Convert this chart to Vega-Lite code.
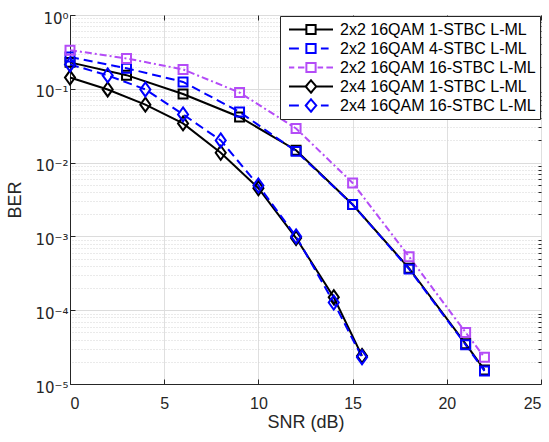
{
  "$schema": "https://vega.github.io/schema/vega-lite/v6.json",
  "width": 471,
  "height": 369,
  "autosize": {"type": "none"},
  "padding": {"left": 70, "top": 15, "right": 8, "bottom": 58},
  "config": {
    "view": {"stroke": "#262626", "strokeWidth": 1},
    "font": "Liberation Sans",
    "axis": {
      "labelFont": "Liberation Sans",
      "titleFont": "Liberation Sans",
      "labelColor": "#262626",
      "titleColor": "#262626",
      "domainColor": "#262626",
      "tickColor": "#262626",
      "labelFontSize": 16,
      "titleFontSize": 18,
      "titleFontWeight": "normal"
    },
    "legend": {
      "labelFont": "Liberation Sans",
      "labelFontSize": 16,
      "labelColor": "#000000"
    }
  },
  "data": {
    "values": [
      {"series": "2x2 16QAM 1-STBC L-ML", "snr": 0, "ber": 0.228},
      {"series": "2x2 16QAM 1-STBC L-ML", "snr": 3, "ber": 0.153},
      {"series": "2x2 16QAM 1-STBC L-ML", "snr": 6, "ber": 0.085},
      {"series": "2x2 16QAM 1-STBC L-ML", "snr": 9, "ber": 0.0415},
      {"series": "2x2 16QAM 1-STBC L-ML", "snr": 12, "ber": 0.0147},
      {"series": "2x2 16QAM 1-STBC L-ML", "snr": 15, "ber": 0.0027},
      {"series": "2x2 16QAM 1-STBC L-ML", "snr": 18, "ber": 0.00037},
      {"series": "2x2 16QAM 1-STBC L-ML", "snr": 21, "ber": 0.000035},
      {"series": "2x2 16QAM 1-STBC L-ML", "snr": 22, "ber": 0.0000155},
      {"series": "2x2 16QAM 4-STBC L-ML", "snr": 0, "ber": 0.27},
      {"series": "2x2 16QAM 4-STBC L-ML", "snr": 3, "ber": 0.19},
      {"series": "2x2 16QAM 4-STBC L-ML", "snr": 6, "ber": 0.124},
      {"series": "2x2 16QAM 4-STBC L-ML", "snr": 9, "ber": 0.0486},
      {"series": "2x2 16QAM 4-STBC L-ML", "snr": 12, "ber": 0.0142},
      {"series": "2x2 16QAM 4-STBC L-ML", "snr": 15, "ber": 0.0027},
      {"series": "2x2 16QAM 4-STBC L-ML", "snr": 18, "ber": 0.00036},
      {"series": "2x2 16QAM 4-STBC L-ML", "snr": 21, "ber": 0.000034},
      {"series": "2x2 16QAM 4-STBC L-ML", "snr": 22, "ber": 0.000015},
      {"series": "2x2 16QAM 16-STBC L-ML", "snr": 0, "ber": 0.334},
      {"series": "2x2 16QAM 16-STBC L-ML", "snr": 3, "ber": 0.258},
      {"series": "2x2 16QAM 16-STBC L-ML", "snr": 6, "ber": 0.183},
      {"series": "2x2 16QAM 16-STBC L-ML", "snr": 9, "ber": 0.089},
      {"series": "2x2 16QAM 16-STBC L-ML", "snr": 12, "ber": 0.029},
      {"series": "2x2 16QAM 16-STBC L-ML", "snr": 15, "ber": 0.0053},
      {"series": "2x2 16QAM 16-STBC L-ML", "snr": 18, "ber": 0.00053},
      {"series": "2x2 16QAM 16-STBC L-ML", "snr": 21, "ber": 0.00005},
      {"series": "2x2 16QAM 16-STBC L-ML", "snr": 22, "ber": 0.000023},
      {"series": "2x4 16QAM 1-STBC L-ML", "snr": 0, "ber": 0.142},
      {"series": "2x4 16QAM 1-STBC L-ML", "snr": 2, "ber": 0.098},
      {"series": "2x4 16QAM 1-STBC L-ML", "snr": 4, "ber": 0.061},
      {"series": "2x4 16QAM 1-STBC L-ML", "snr": 6, "ber": 0.034},
      {"series": "2x4 16QAM 1-STBC L-ML", "snr": 8, "ber": 0.0136},
      {"series": "2x4 16QAM 1-STBC L-ML", "snr": 10, "ber": 0.0045},
      {"series": "2x4 16QAM 1-STBC L-ML", "snr": 12, "ber": 0.00095},
      {"series": "2x4 16QAM 1-STBC L-ML", "snr": 14, "ber": 0.00015},
      {"series": "2x4 16QAM 1-STBC L-ML", "snr": 15.5, "ber": 0.000024},
      {"series": "2x4 16QAM 16-STBC L-ML", "snr": 0, "ber": 0.214},
      {"series": "2x4 16QAM 16-STBC L-ML", "snr": 2, "ber": 0.152},
      {"series": "2x4 16QAM 16-STBC L-ML", "snr": 4, "ber": 0.098},
      {"series": "2x4 16QAM 16-STBC L-ML", "snr": 6, "ber": 0.045},
      {"series": "2x4 16QAM 16-STBC L-ML", "snr": 8, "ber": 0.02},
      {"series": "2x4 16QAM 16-STBC L-ML", "snr": 10, "ber": 0.0049},
      {"series": "2x4 16QAM 16-STBC L-ML", "snr": 12, "ber": 0.001},
      {"series": "2x4 16QAM 16-STBC L-ML", "snr": 14, "ber": 0.000127},
      {"series": "2x4 16QAM 16-STBC L-ML", "snr": 15.5, "ber": 0.000023}
    ]
  },
  "resolve": {"axis": {"x": "independent", "y": "independent"}},
  "layer": [
    {
      "transform": [{"filter": {"field": "series", "oneOf": ["2x2 16QAM 1-STBC L-ML", "2x4 16QAM 1-STBC L-ML"]}}],
      "mark": {"type": "line", "strokeWidth": 2},
      "encoding": {
        "x": {
          "field": "snr", "type": "quantitative",
          "scale": {"domain": [0, 25], "nice": false, "zero": false},
          "axis": {
            "orient": "bottom",
            "values": [0, 5, 10, 15, 20, 25],
            "grid": true, "gridColor": "#dfdfdf",
            "tickSize": -5, "labelPadding": 16,
            "title": "SNR (dB)", "titlePadding": 2
          }
        },
        "y": {
          "field": "ber", "type": "quantitative",
          "scale": {"type": "log", "domain": [0.00001, 1], "nice": false},
          "axis": {
            "orient": "left",
            "values": [0.00001, 0.0001, 0.001, 0.01, 0.1, 1],
            "labelExpr": "['10⁰','10⁻¹','10⁻²','10⁻³','10⁻⁴','10⁻⁵'][-round(log(datum.value)/LN10)]",
            "labelFont": "DejaVu Sans",
            "labelFontSize": 15,
            "labelOffset": 3,
            "grid": true, "gridColor": "#dcdcdc",
            "tickSize": -5, "labelPadding": 7,
            "title": "BER", "titlePadding": 10
          }
        },
        "color": {
          "field": "series", "type": "nominal",
          "sort": ["2x2 16QAM 1-STBC L-ML", "2x2 16QAM 4-STBC L-ML", "2x2 16QAM 16-STBC L-ML", "2x4 16QAM 1-STBC L-ML", "2x4 16QAM 16-STBC L-ML"],
          "scale": {
            "domain": ["2x2 16QAM 1-STBC L-ML", "2x2 16QAM 4-STBC L-ML", "2x2 16QAM 16-STBC L-ML", "2x4 16QAM 1-STBC L-ML", "2x4 16QAM 16-STBC L-ML"],
            "range": ["#000000", "#0000ff", "#b44cf7", "#000000", "#0000ff"]
          },
          "legend": {
            "title": null,
            "orient": "top-right",
            "offset": 1,
            "strokeColor": "#262626",
            "fillColor": "#ffffff",
            "padding": 4,
            "cornerRadius": 0,
            "symbolSize": 1936,
            "symbolOffset": 4,
            "symbolStrokeWidth": 2,
            "clipHeight": 19,
            "rowPadding": 0,
            "labelOffset": 6,
            "labelLimit": 0,
            "encode": {
              "symbols": {
                "update": {
                  "fill": {"value": "transparent"},
                  "strokeWidth": {"value": 2},
                  "strokeDash": {"value": [1, 0]},
                  "shape": {"signal": "['M-1,0H-0.21M0.21,0H1M-0.21,-0.21H0.21V0.21H-0.21Z','M-1,0H-0.55M0.45,0H0.8M-0.21,-0.21H0.21V0.21H-0.21Z','M-1,0H-0.76M-0.59,0H-0.3M0.3,0H0.55M0.7,0H1M-0.21,-0.21H0.21V0.21H-0.21Z','M-1,0H-0.24M0.24,0H1M0,-0.28L0.24,0L0,0.28L-0.24,0Z','M-1,0H-0.55M0.45,0H0.8M0,-0.28L0.24,0L0,0.28L-0.24,0Z'][indexof(['2x2 16QAM 1-STBC L-ML','2x2 16QAM 4-STBC L-ML','2x2 16QAM 16-STBC L-ML','2x4 16QAM 1-STBC L-ML','2x4 16QAM 16-STBC L-ML'], datum.value)]"}
                }
              }
            }
          }
        }
      }
    },
    {
      "transform": [{"filter": {"field": "series", "oneOf": ["2x2 16QAM 4-STBC L-ML", "2x4 16QAM 16-STBC L-ML"]}}],
      "mark": {"type": "line", "strokeWidth": 2, "strokeDash": [9, 5]},
      "encoding": {
        "x": {"field": "snr", "type": "quantitative", "axis": null},
        "y": {"field": "ber", "type": "quantitative", "axis": null},
        "color": {"field": "series", "type": "nominal"}
      }
    },
    {
      "transform": [{"filter": {"field": "series", "equal": "2x2 16QAM 16-STBC L-ML"}}],
      "mark": {"type": "line", "strokeWidth": 2, "strokeDash": [7, 3, 2, 3]},
      "encoding": {
        "x": {"field": "snr", "type": "quantitative", "axis": null},
        "y": {"field": "ber", "type": "quantitative", "axis": null},
        "color": {"field": "series", "type": "nominal"}
      }
    },
    {
      "transform": [{"filter": {"field": "series", "oneOf": ["2x2 16QAM 1-STBC L-ML", "2x2 16QAM 4-STBC L-ML", "2x2 16QAM 16-STBC L-ML"]}}],
      "mark": {"type": "point", "filled": false, "strokeWidth": 2, "size": 196, "opacity": 1, "shape": "M-0.64,-0.64H0.64V0.64H-0.64Z"},
      "encoding": {
        "x": {
          "field": "snr", "type": "quantitative",
          "axis": {
            "orient": "top",
            "values": [0, 5, 10, 15, 20, 25],
            "labels": false, "grid": false, "domain": false,
            "tickSize": -5, "title": null
          }
        },
        "y": {
          "field": "ber", "type": "quantitative",
          "axis": {
            "orient": "right",
            "values": [0.00002, 0.00003, 0.00004, 0.00005, 0.00006, 0.00007, 0.00008, 0.00009, 0.0002, 0.0003, 0.0004, 0.0005, 0.0006, 0.0007, 0.0008, 0.0009, 0.002, 0.003, 0.004, 0.005, 0.006, 0.007, 0.008, 0.009, 0.02, 0.03, 0.04, 0.05, 0.06, 0.07, 0.08, 0.09, 0.2, 0.3, 0.4, 0.5, 0.6, 0.7, 0.8, 0.9],
            "labels": false, "grid": true, "gridColor": "#d4d4d4", "gridDash": [1, 2],
            "domain": false, "tickSize": -3, "title": null
          }
        },
        "color": {"field": "series", "type": "nominal"}
      }
    },
    {
      "transform": [{"filter": {"field": "series", "oneOf": ["2x4 16QAM 1-STBC L-ML", "2x4 16QAM 16-STBC L-ML"]}}],
      "mark": {"type": "point", "filled": false, "strokeWidth": 2, "size": 196, "opacity": 1, "shape": "M0,-1L0.72,0L0,1L-0.72,0Z"},
      "encoding": {
        "x": {"field": "snr", "type": "quantitative", "axis": null},
        "y": {"field": "ber", "type": "quantitative", "axis": null},
        "color": {"field": "series", "type": "nominal"}
      }
    }
  ]
}
